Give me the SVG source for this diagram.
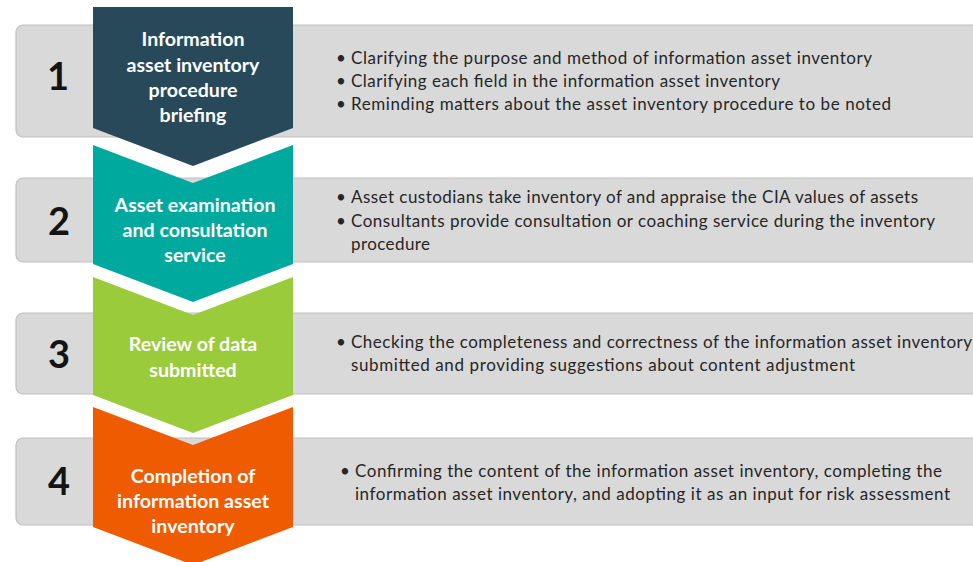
<svg xmlns="http://www.w3.org/2000/svg" width="973" height="562" viewBox="0 0 973 562">
<style>
.box{fill:#D9D9D9;stroke:#BFBFBF;stroke-width:1.2}
.num{font-family:Lato,"Open Sans","Liberation Sans",sans-serif;font-weight:bold;font-size:38px;fill:#141414;text-anchor:middle}
.lbl{font-family:Lato,"Open Sans","Liberation Sans",sans-serif;font-weight:bold;font-size:19.6px;fill:#FFFFFF;text-anchor:middle}
.txt{font-family:Lato,"Open Sans","Liberation Sans",sans-serif;font-size:17px;fill:#262626}
</style>
<rect width="973" height="562" fill="#FFFFFF"/>
<g id="step1">
<rect class="box" x="16" y="25" width="980" height="112" rx="7"/>
<text class="num" x="58" y="90">1</text>
<text class="txt" x="336" y="64">•</text>
<text class="txt" x="351" y="64" textLength="521">Clarifying the purpose and method of information asset inventory</text>
<text class="txt" x="336" y="87">•</text>
<text class="txt" x="351" y="87" textLength="429">Clarifying each field in the information asset inventory</text>
<text class="txt" x="336" y="110">•</text>
<text class="txt" x="351" y="110" textLength="540">Reminding matters about the asset inventory procedure to be noted</text>
</g>
<g id="step2">
<rect class="box" x="16" y="178" width="980" height="84" rx="7"/>
<text class="num" x="59" y="235">2</text>
<text class="txt" x="336" y="203">•</text>
<text class="txt" x="351" y="203" textLength="567">Asset custodians take inventory of and appraise the CIA values of assets</text>
<text class="txt" x="336" y="227">•</text>
<text class="txt" x="351" y="227" textLength="584">Consultants provide consultation or coaching service during the inventory</text>
<text class="txt" x="351" y="250" textLength="79">procedure</text>
</g>
<g id="step3">
<rect class="box" x="16" y="313" width="980" height="81" rx="7"/>
<text class="num" x="59" y="368">3</text>
<text class="txt" x="336" y="348">•</text>
<text class="txt" x="351" y="348" textLength="621">Checking the completeness and correctness of the information asset inventory</text>
<text class="txt" x="351" y="371" textLength="504">submitted and providing suggestions about content adjustment</text>
</g>
<g id="step4">
<rect class="box" x="16" y="438" width="980" height="87" rx="7"/>
<text class="num" x="59" y="495">4</text>
<text class="txt" x="340" y="477">•</text>
<text class="txt" x="355" y="477" textLength="587">Confirming the content of the information asset inventory, completing the</text>
<text class="txt" x="355" y="500" textLength="595">information asset inventory, and adopting it as an input for risk assessment</text>
</g>
<g id="chevron1">
<path d="M93,7 H293 V128 L193,166 L93,128 Z" fill="#28495A"/>
<text class="lbl" x="193" y="46">Information</text>
<text class="lbl" x="193" y="71.5">asset inventory</text>
<text class="lbl" x="193" y="96.5">procedure</text>
<text class="lbl" x="193" y="121.5">briefing</text>
</g>
<g id="chevron2">
<path d="M93,145 L193,183 L293,145 V264 L193,302 L93,264 Z" fill="#00A99E"/>
<text class="lbl" x="195" y="211.5">Asset examination</text>
<text class="lbl" x="195" y="236.5">and consultation</text>
<text class="lbl" x="195" y="261.5">service</text>
</g>
<g id="chevron3">
<path d="M93,277 L193,315 L293,277 V395 L193,433 L93,395 Z" fill="#9ACB3B"/>
<text class="lbl" x="193" y="351">Review of data</text>
<text class="lbl" x="193" y="376.5">submitted</text>
</g>
<g id="chevron4">
<path d="M93,407 L193,445 L293,407 V527 L193,565 L93,527 Z" fill="#EE5B00"/>
<text class="lbl" x="193" y="482.5">Completion of</text>
<text class="lbl" x="193" y="508">information asset</text>
<text class="lbl" x="193" y="532.5">inventory</text>
</g>
<g id="connectors"/>
</svg>
